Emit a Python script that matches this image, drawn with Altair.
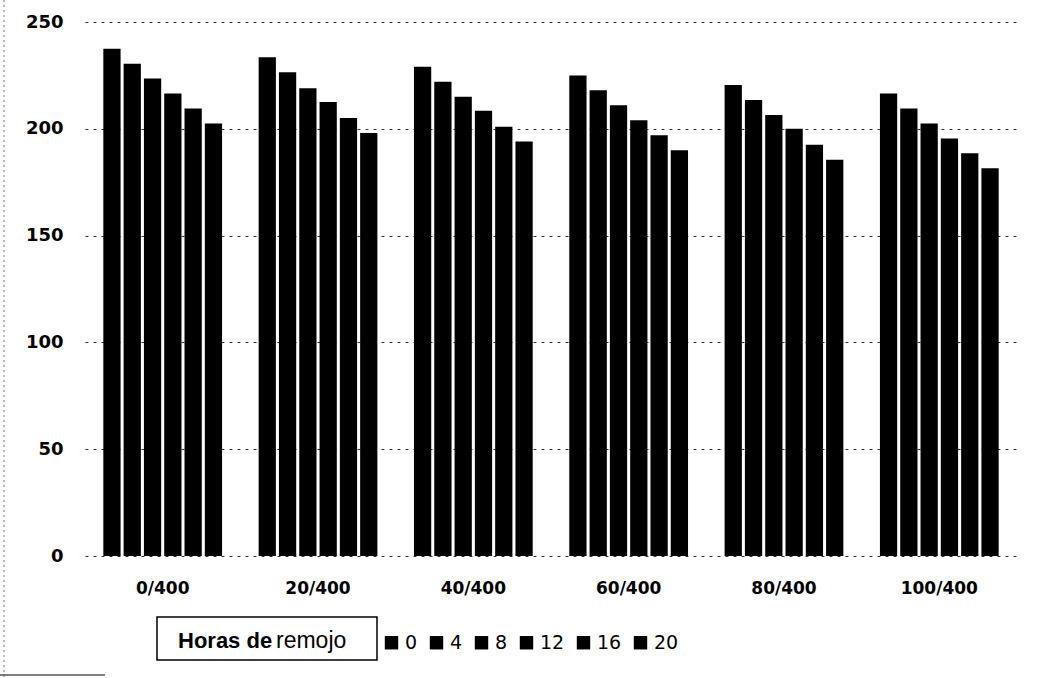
import altair as alt
import pandas as pd

# Ratios (group categories on the x axis)
grupos = ["0/400", "20/400", "40/400", "60/400", "80/400", "100/400"]

# Soaking hours (one bar per series inside each group)
horas = ["0", "4", "8", "12", "16", "20"]

# Bar heights, one list per soaking time, in the order of `grupos`
h0 = [237.5, 233.5, 229.0, 225.0, 220.5, 216.5]
h4 = [230.5, 226.5, 222.0, 218.0, 213.5, 209.5]
h8 = [223.5, 219.0, 215.0, 211.0, 206.5, 202.5]
h12 = [216.5, 212.5, 208.5, 204.0, 200.0, 195.5]
h16 = [209.5, 205.0, 201.0, 197.0, 192.5, 188.5]
h20 = [202.5, 198.0, 194.0, 190.0, 185.5, 181.5]

y_ticks = [0, 50, 100, 150, 200, 250]

series = [h0, h4, h8, h12, h16, h20]
rows = []
for hora, vals in zip(horas, series):
    for g, v in zip(grupos, vals):
        rows.append({"grupo": g, "horas": hora, "valor": v})
df = pd.DataFrame(rows)

W, H = 932, 534
AXIS_FONT = "DejaVu Sans"

bars = alt.Chart(df).mark_bar(color="black").encode(
    x=alt.X(
        "grupo:N",
        sort=grupos,
        scale=alt.Scale(paddingInner=0.2355, paddingOuter=0.118),
        axis=alt.Axis(
            title=None,
            labelAngle=0,
            domain=False,
            ticks=False,
            tickSize=0,
            labelPadding=24,
            labelFont=AXIS_FONT,
            labelFontSize=17,
            labelFontWeight="bold",
            labelColor="black",
            grid=False,
        ),
    ),
    xOffset=alt.XOffset(
        "horas:N",
        sort=horas,
        scale=alt.Scale(paddingInner=0.15, paddingOuter=0),
    ),
    y=alt.Y(
        "valor:Q",
        scale=alt.Scale(domain=[0, 250], nice=False, zero=True),
        axis=alt.Axis(
            title=None,
            values=y_ticks,
            domain=False,
            ticks=False,
            tickSize=0,
            labelPadding=22,
            labelFont=AXIS_FONT,
            labelFontSize=18,
            labelFontWeight="bold",
            labelColor="black",
            grid=True,
            gridColor="#333333",
            gridDash=[3, 5],
            gridWidth=1,
        ),
    ),
    color=alt.Color(
        "horas:N",
        sort=horas,
        scale=alt.Scale(domain=horas, range=["#000000"] * len(horas)),
        legend=alt.Legend(
            title=None,
            orient="none",
            direction="horizontal",
            legendX=297,
            legendY=611,
            symbolType="square",
            symbolSize=180,
            symbolStrokeWidth=0,
            labelFont=AXIS_FONT,
            labelFontSize=19,
            labelColor="black",
            labelOffset=4,
            columnPadding=9,
            padding=0,
        ),
    ),
)

one = pd.DataFrame({"k": [0]})

# Boxed legend caption
caption_box = alt.Chart(one).mark_rect(
    fill="white", stroke="black", strokeWidth=1.5
).encode(
    x=alt.value(72), x2=alt.value(292), y=alt.value(595), y2=alt.value(638)
)
caption_bold = alt.Chart(one).mark_text(
    text="Horas de", font="Liberation Sans", fontSize=22, fontWeight="bold",
    align="left", baseline="alphabetic", color="black",
).encode(x=alt.value(93), y=alt.value(626))
caption_reg = alt.Chart(one).mark_text(
    text="remojo", font="Liberation Sans", fontSize=23,
    align="left", baseline="alphabetic", color="black",
).encode(x=alt.value(191), y=alt.value(626))

# Outer frame remnants on the left and bottom edges
frame_left = alt.Chart(one).mark_rule(
    color="#777777", strokeDash=[2, 3], strokeWidth=1
).encode(x=alt.value(-81), y=alt.value(-22), y2=alt.value(656))
frame_bottom = alt.Chart(one).mark_rule(color="#555555", strokeWidth=1.5).encode(
    x=alt.value(-85), x2=alt.value(20), y=alt.value(653)
)

chart = (
    alt.layer(bars, caption_box, caption_bold, caption_reg, frame_left, frame_bottom)
    .properties(
        width=W,
        height=H,
        padding={"left": 85, "top": 22, "right": 25, "bottom": 122},
        autosize=alt.AutoSizeParams(type="none"),
        background="white",
    )
    .configure_view(strokeWidth=0)
)

chart.save("out.html", embed_options={"renderer": "svg", "actions": False})
